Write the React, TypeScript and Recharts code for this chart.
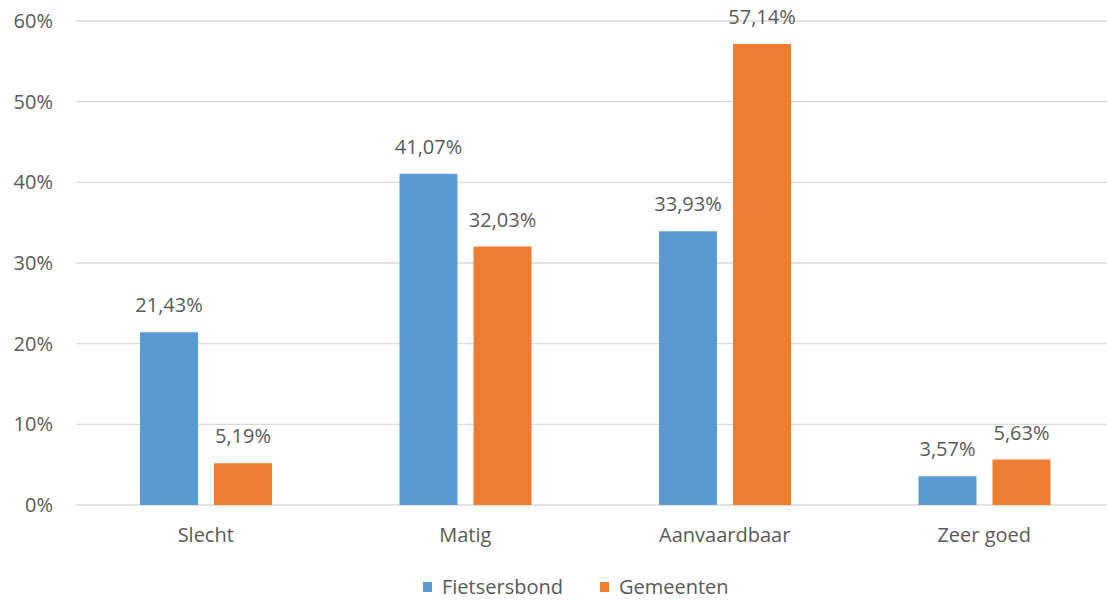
import React from 'react';
import { BarChart, Bar, XAxis, YAxis, CartesianGrid, Legend, LabelList } from 'recharts';

const categories = ['Slecht', 'Matig', 'Aanvaardbaar', 'Zeer goed'];
const fietsersbond = [21.43, 41.07, 33.93, 3.57];
const gemeenten = [5.19, 32.03, 57.14, 5.63];
const yTicks = [0, 10, 20, 30, 40, 50, 60];

const BLUE = '#5B9BD5';
const ORANGE = '#ED7D31';
const TEXT = '#595959';
const FONT = '"Open Sans", "Noto Sans", sans-serif';

const data = categories.map((name, i) => ({
    name,
    Fietsersbond: fietsersbond[i],
    Gemeenten: gemeenten[i],
}));

const fmt = (v: number) => `${v.toFixed(2).replace('.', ',')}%`;

const legendItems = [
    { name: 'Fietsersbond', color: BLUE },
    { name: 'Gemeenten', color: ORANGE },
];

const LegendContent = () => (
    <div style={{ display: 'flex', paddingLeft: 423, fontFamily: FONT, fontSize: 20, lineHeight: '22px', color: TEXT, height: 22, alignItems: 'center' }}>
        {legendItems.map((item) => (
            <div key={item.name} style={{ display: 'flex', alignItems: 'center', marginRight: 37 }}>
                <span style={{ width: 9, height: 10, background: item.color, display: 'inline-block', marginRight: 10 }} />
                <span>{item.name}</span>
            </div>
        ))}
    </div>
);

const App: React.FC = () => {
    return (
        <div style={{ position: 'absolute', left: 0, top: 0, width: 1107, height: 600, overflow: 'hidden', background: '#fff' }}>
            <BarChart
                width={1114}
                height={600}
                data={data}
                margin={{ top: 21, right: 0, bottom: 2, left: 0 }}
                barCategoryGap={64}
                barGap={16}
            >
                <CartesianGrid vertical={false} stroke="#d9d9d9" strokeWidth={1.3} />
                <XAxis
                    dataKey="name"
                    axisLine={false}
                    tickLine={false}
                    tickSize={0}
                    tickMargin={23}
                    height={71}
                    tick={{ fill: TEXT, fontSize: 20, fontFamily: FONT }}
                />
                <YAxis
                    domain={[0, 60]}
                    ticks={yTicks}
                    tickFormatter={(v: number) => `${v}%`}
                    axisLine={false}
                    tickLine={false}
                    tickSize={0}
                    tickMargin={23}
                    width={76}
                    tick={{ fill: TEXT, fontSize: 20, fontFamily: FONT }}
                />
                <Legend verticalAlign="bottom" height={22} content={<LegendContent />} />
                <Bar dataKey="Fietsersbond" fill={BLUE} isAnimationActive={false}>
                    <LabelList dataKey="Fietsersbond" position="top" offset={20} formatter={(v: any) => fmt(Number(v))} style={{ fill: TEXT, fontSize: 20, fontFamily: FONT }} />
                </Bar>
                <Bar dataKey="Gemeenten" fill={ORANGE} isAnimationActive={false}>
                    <LabelList dataKey="Gemeenten" position="top" offset={20} formatter={(v: any) => fmt(Number(v))} style={{ fill: TEXT, fontSize: 20, fontFamily: FONT }} />
                </Bar>
            </BarChart>
        </div>
    );
};

export default App;
